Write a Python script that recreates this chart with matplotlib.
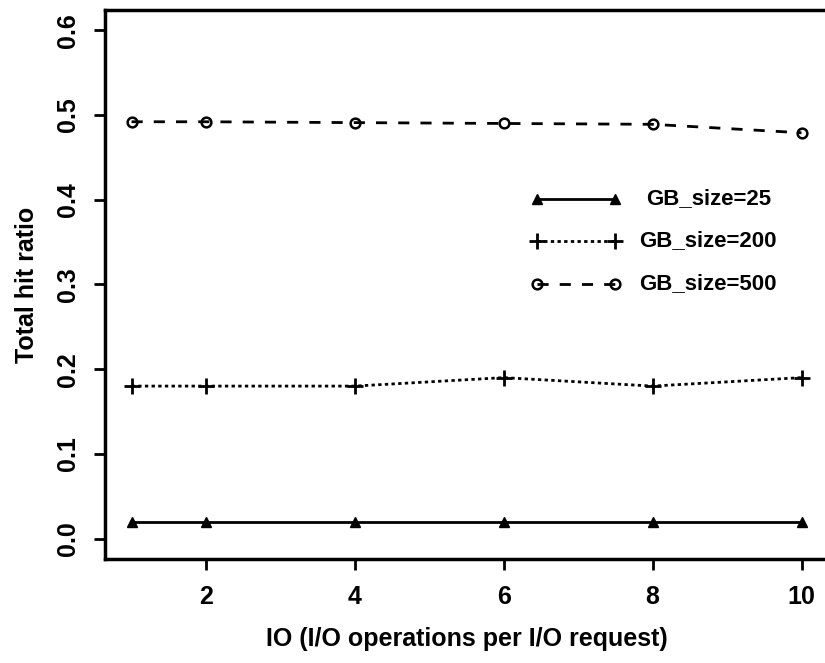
import matplotlib
matplotlib.use("Agg")
import matplotlib.pyplot as plt
from matplotlib.lines import Line2D

plt.rcParams['font.family'] = ['Liberation Sans', 'DejaVu Sans']
plt.rcParams['font.weight'] = 'bold'

io_ops = [1, 2, 4, 6, 8, 10]
hit_gb25 = [0.02, 0.02, 0.02, 0.02, 0.02, 0.02]
hit_gb200 = [0.18, 0.18, 0.18, 0.19, 0.18, 0.19]
hit_gb500 = [0.492, 0.492, 0.491, 0.490, 0.489, 0.479]
labels = ["GB_size=25", "GB_size=200", "GB_size=500"]
x_ticks = [2, 4, 6, 8, 10]
y_ticks = [0.0, 0.1, 0.2, 0.3, 0.4, 0.5, 0.6]

fig = plt.figure(figsize=(8.25, 6.63), dpi=100)
ax = fig.add_axes([0.127, 0.157, 0.877, 0.828])

styles = [
    dict(linestyle='-', marker='^', markersize=7, markerfacecolor='black'),
    dict(linestyle=(0, (1.2, 1.2)), marker='+', markersize=12, markeredgewidth=2),
    dict(linestyle=(0, (4, 4)), marker='o', markersize=7, markerfacecolor='none',
         markeredgewidth=1.8),
]
series = [hit_gb25, hit_gb200, hit_gb500]
for vals, st in zip(series, styles):
    ax.plot(io_ops, vals, color='black', linewidth=2, **st)

ax.set_xlim(0.64, 10.36)
ax.set_ylim(-0.024, 0.624)
ax.set_xticks(x_ticks)
ax.set_yticks(y_ticks)
ax.set_xticklabels([str(t) for t in x_ticks], fontsize=18, fontweight='bold')
ax.set_yticklabels([f"{t:.1f}" for t in y_ticks], fontsize=18, fontweight='bold',
                   rotation=90, va='center')
ax.tick_params(axis='x', direction='out', length=8, width=2, pad=11)
ax.tick_params(axis='y', direction='out', length=8, width=2, pad=10)

for side in ['left', 'bottom', 'top']:
    ax.spines[side].set_linewidth(2.5)
ax.spines['right'].set_visible(False)

ax.set_xlabel("IO (I/O operations per I/O request)", fontsize=18, fontweight='bold',
              labelpad=13)
ax.set_ylabel("Total hit ratio", fontsize=18, fontweight='bold', labelpad=12)

# legend drawn inside the plotting area
rows_y = [0.656, 0.579, 0.501]
for yy, st, lab in zip(rows_y, styles, labels):
    ln = Line2D([0.597, 0.705], [yy, yy], transform=ax.transAxes, color='black',
                linewidth=2, markevery=[0, 1], **st)
    ax.add_line(ln)
    ax.text(0.834, yy, lab, transform=ax.transAxes, ha='center', va='center',
            fontsize=16, fontweight='bold')

fig.savefig("out.png", dpi=100)
